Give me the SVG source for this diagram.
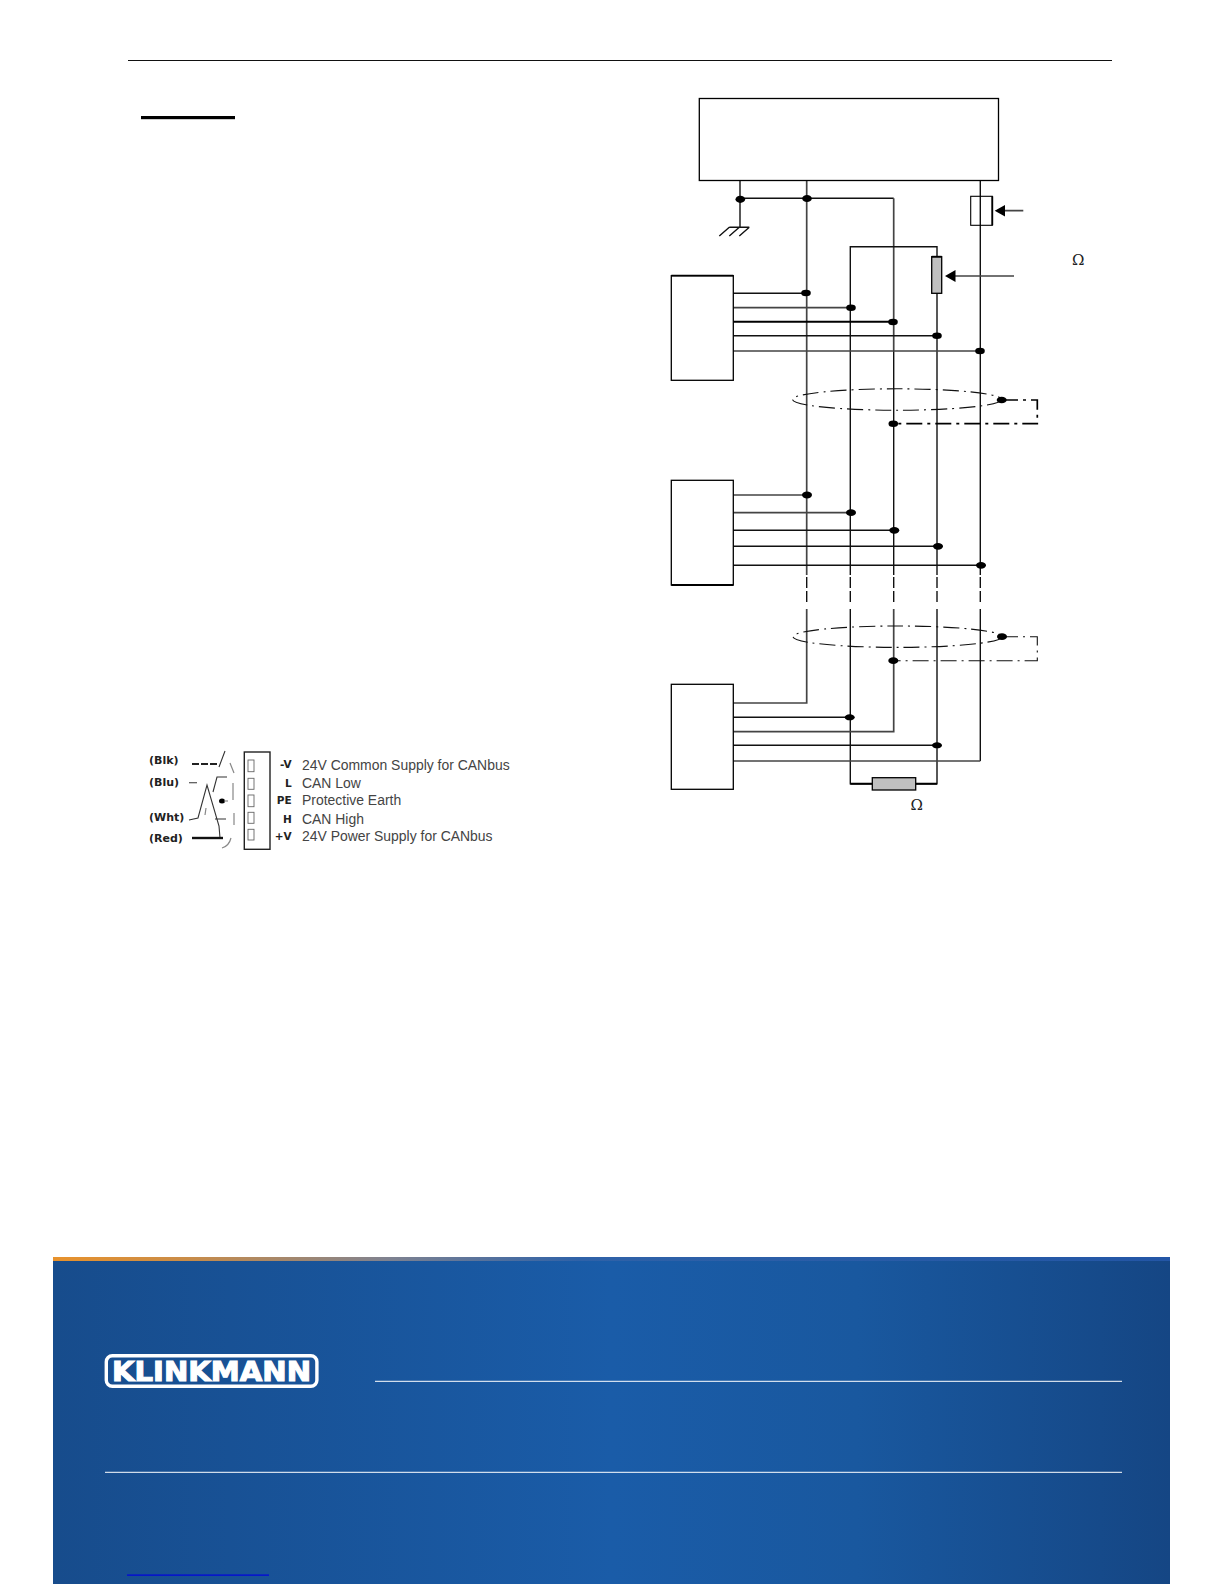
<svg xmlns="http://www.w3.org/2000/svg" width="1224" height="1584" viewBox="0 0 1224 1584">
<style>
.box{fill:#fff;stroke:#000;stroke-width:1.3}
.w{fill:none;stroke:#111;stroke-width:1.4}
.g{fill:none;stroke:#444;stroke-width:1.7}
.t{fill:none;stroke:#000;stroke-width:2}
.d{fill:none;stroke:#111;stroke-width:1.4;stroke-dasharray:11 3}
.s{fill:none;stroke:#111;stroke-width:1.1;stroke-dasharray:16 5 2 5}
.s2{fill:none;stroke:#000;stroke-width:1.7;stroke-dasharray:16 5 3 5}
.j{fill:#000}
.res{fill:#c0c0c0;stroke:#000;stroke-width:1.3}
.om{font-family:"DejaVu Serif","Liberation Serif",serif;font-size:15px;fill:#222;text-anchor:middle}
.lb{font-family:"DejaVu Sans",sans-serif;font-weight:bold;font-size:11px;fill:#222}
.pl{font-family:"DejaVu Sans",sans-serif;font-weight:bold;font-size:10.5px;fill:#222;text-anchor:end}
.ds{font-family:"Liberation Sans",Arial,sans-serif;font-size:13.95px;fill:#444}
.pin{fill:#fff;stroke:#666;stroke-width:.9}
.cw{fill:none;stroke:#333;stroke-width:1.1}
.cg{fill:none;stroke:#888;stroke-width:1.2}
</style>
<defs>
<linearGradient id="bg" x1="0" x2="1" y1="0" y2="0">
<stop offset="0" stop-color="#174c8c"/><stop offset=".5" stop-color="#1a5ca8"/><stop offset=".72" stop-color="#19589f"/><stop offset="1" stop-color="#154684"/>
</linearGradient>
<linearGradient id="strip" x1="0" x2="1" y1="0" y2="0">
<stop offset="0" stop-color="#e8922c"/><stop offset=".12" stop-color="#c98c48"/><stop offset=".3" stop-color="#7f8290"/><stop offset=".47" stop-color="#2f62a8"/><stop offset="1" stop-color="#2356a6"/>
</linearGradient>
</defs>
<rect width="1224" height="1584" fill="#fff"/>
<g id="page-header">
<line x1="128" y1="60.5" x2="1112" y2="60.5" stroke="#111" stroke-width="1"/>
<rect x="141" y="116" width="94" height="3.2" fill="#000"/>
</g>
<g id="footer">
<rect x="53" y="1257" width="1117" height="327" fill="url(#bg)"/>
<rect x="53" y="1257" width="1117" height="4" fill="url(#strip)"/>
<line x1="375" y1="1381.3" x2="1122" y2="1381.3" stroke="#fff" stroke-width="1"/>
<line x1="105" y1="1472.3" x2="1122" y2="1472.3" stroke="#fff" stroke-width="1"/>
<rect x="127" y="1574.5" width="142" height="1.2" fill="#0000e0"/>
</g>
<g id="logo">
<rect x="106.3" y="1355.8" width="210.6" height="30.4" rx="6" fill="none" stroke="#fff" stroke-width="3.4"/>
<text x="112" y="1381" font-family="'DejaVu Sans',sans-serif" font-weight="bold" font-size="26.5" fill="#fff" stroke="#fff" stroke-width="1.1" textLength="199" lengthAdjust="spacingAndGlyphs">KLINKMANN</text>
</g>
<g id="connectors">
<path class="w" d="M740 180V227"/>
<path class="w" d="M740 198.3H893.7"/>
<path class="g" d="M806.7 180V575"/>
<path class="g" d="M893.7 198.3V350"/>
<path class="w" d="M893.7 350V575"/>
<path class="w" d="M850.3 575V246.7H937V256.7"/>
<path class="w" d="M937 293V575"/>
<path class="w" d="M980.3 180V575"/>
<path class="d" d="M806.7 577V604M850.3 577V604M893.7 577V604M937 577V604M980.3 577V604"/>
<path class="g" d="M806.7 609V703H733"/>
<path class="w" d="M850.3 609V783.7H872"/>
<path class="g" d="M893.7 609V731.7H733"/>
<path class="w" d="M937 609V783.7H916"/>
<path class="w" d="M980.3 609V761"/>
<path class="g" d="M733 761H980.3"/>
<path class="t" d="M850.3 783.7H872M916 783.7H937"/>
<path class="w" d="M733 293.3H806M733 335.7H937"/>
<path class="g" d="M733 307.7H851M733 351H980"/>
<path class="t" d="M733 321.7H893"/>
<path class="g" d="M733 495H807M733 512.7H851"/>
<path class="w" d="M733 530.3H894M733 546.3H938M733 565.3H981"/>
<path class="w" d="M733 717.3H850M733 745.3H937"/>
<ellipse class="s" cx="897" cy="399.5" rx="104.5" ry="10.7"/>
<path class="s2" d="M1002 400H1037.3V423.7H893.3"/>
<ellipse class="s" cx="897.5" cy="636.7" rx="104.5" ry="10.7"/>
<path class="s" d="M1002 636.7H1037.3V660.7H893.3"/>
<path class="g" d="M1023.3 210.7H1003M1014 276H954"/>
<path class="j" d="M994.7 210.7L1005 205V216.5ZM945 276L955.5 270V282Z"/>
<g class="j">
<ellipse cx="740.3" cy="199.3" rx="4.8" ry="3.6"/><ellipse cx="807" cy="198.5" rx="4.8" ry="3.6"/>
<ellipse cx="806" cy="293" rx="4.8" ry="3.2"/><ellipse cx="851" cy="307.7" rx="4.8" ry="3.2"/><ellipse cx="893" cy="322" rx="4.8" ry="3.2"/><ellipse cx="937" cy="335.7" rx="4.8" ry="3.2"/><ellipse cx="980" cy="351" rx="4.8" ry="3.2"/>
<ellipse cx="1001.7" cy="400" rx="5" ry="3.2"/><ellipse cx="893.3" cy="423.7" rx="4.8" ry="3.2"/>
<ellipse cx="807" cy="495" rx="5" ry="3.4"/><ellipse cx="851" cy="512.7" rx="5" ry="3.4"/><ellipse cx="894.3" cy="530.3" rx="5" ry="3.4"/><ellipse cx="938" cy="546.3" rx="5" ry="3.4"/><ellipse cx="981" cy="565.3" rx="5" ry="3.4"/>
<ellipse cx="1002" cy="636.7" rx="5" ry="3.4"/><ellipse cx="893.3" cy="660.7" rx="5" ry="3.4"/>
<ellipse cx="849.7" cy="717.3" rx="5" ry="3"/><ellipse cx="937" cy="745.3" rx="5" ry="3"/>
</g>
</g>
<g id="controller"><rect class="box" x="699.3" y="98.5" width="299.2" height="82"/></g>
<g id="ground"><path class="w" d="M729.3 227.3H749.3M749.3 227.3L739.3 236M739.3 227.3L729.3 236M729.3 227.3L719.3 236"/></g>
<g id="fuse"><rect x="970.7" y="196.3" width="21.6" height="29" fill="none" stroke="#000" stroke-width="1.1"/><path d="M992.3 196.3V225.3" stroke="#000" stroke-width="1.8"/></g>
<g id="terminator-top"><rect class="res" x="931.7" y="256.7" width="10" height="36.6"/><path d="M931.7 256.7H941.7" stroke="#000" stroke-width="1.8"/><text class="om" x="1078.3" y="265">Ω</text></g>
<g id="node-1"><rect class="box" x="671.3" y="275.7" width="62" height="104.6"/><path d="M671.3 275.7H733.3" stroke="#000" stroke-width="1.8"/></g>
<g id="node-2"><rect class="box" x="671.3" y="480.3" width="62" height="104.7"/><path d="M671.3 585H733.3" stroke="#000" stroke-width="1.8"/></g>
<g id="node-3"><rect class="box" x="671.3" y="684.3" width="62" height="105"/></g>
<g id="terminator-bottom"><rect class="res" x="872.3" y="777.7" width="43.4" height="12.3"/><text class="om" x="916.7" y="810">Ω</text></g>
<g id="connector-pinout">
<text class="lb" x="149" y="764">(Blk)</text><text class="lb" x="149" y="785.5">(Blu)</text><text class="lb" x="149" y="820.5">(Wht)</text><text class="lb" x="149" y="841.5">(Red)</text>
<path d="M192 764H218" fill="none" stroke="#222" stroke-width="2" stroke-dasharray="7 2"/>
<path class="cw" d="M219 767L225 751M189 782.7H197M189 820L198 818L207 785L219 826L220 838M213 792L217 777H227M215 819H226"/>
<path d="M192 838H223" fill="none" stroke="#111" stroke-width="2.4"/>
<path class="cg" d="M230 763L234 773M233 783V800M234 813V825M222 848Q229 846 231 838M205 815L206 808"/>
<ellipse class="j" cx="222" cy="801" rx="3" ry="2.5"/><path class="cg" d="M224 801H228"/>
<rect x="244.3" y="752" width="25.7" height="97.3" fill="#fff" stroke="#222" stroke-width="1.4"/>
<rect class="pin" x="248" y="760" width="6" height="11.7"/><rect class="pin" x="248" y="778.3" width="6" height="11"/><rect class="pin" x="248" y="795" width="6" height="11.7"/><rect class="pin" x="248" y="812.3" width="6" height="11"/><rect class="pin" x="248" y="829.3" width="6" height="10.7"/>
<text class="pl" x="291.7" y="768.3">-V</text><text class="pl" x="291.7" y="787">L</text><text class="pl" x="291.7" y="804">PE</text><text class="pl" x="291.7" y="822.7">H</text><text class="pl" x="291.7" y="840">+V</text>
<text class="ds" x="302" y="770">24V Common Supply for CANbus</text><text class="ds" x="302" y="788.3">CAN Low</text><text class="ds" x="302" y="805">Protective Earth</text><text class="ds" x="302" y="824">CAN High</text><text class="ds" x="302" y="840.7">24V Power Supply for CANbus</text>
</g>
</svg>
